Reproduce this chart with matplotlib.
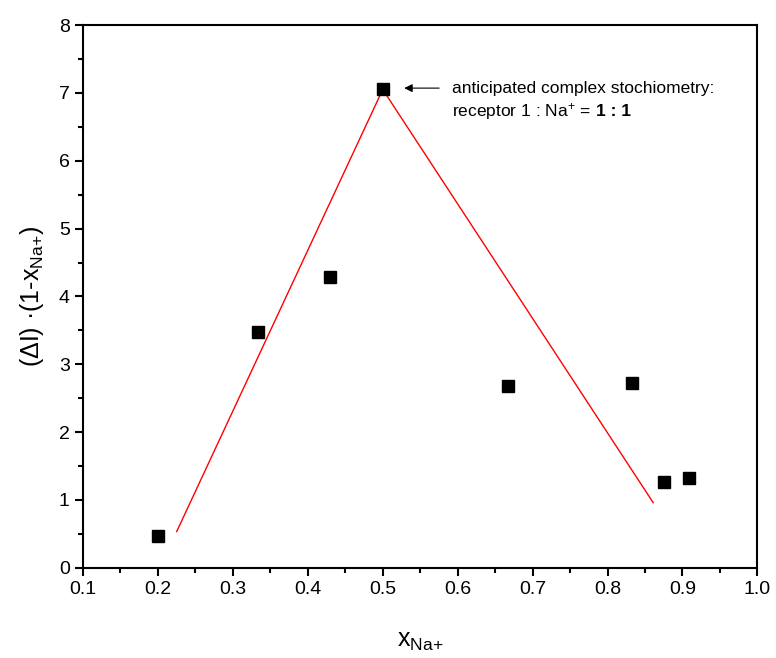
import matplotlib
matplotlib.use("Agg")
import matplotlib.pyplot as plt
from matplotlib.ticker import MultipleLocator

plt.rcParams['font.family'] = ['Liberation Sans', 'DejaVu Sans']
plt.rcParams['mathtext.fontset'] = 'custom'
plt.rcParams['mathtext.rm'] = 'Liberation Sans'
plt.rcParams['mathtext.it'] = 'Liberation Sans'
plt.rcParams['mathtext.bf'] = 'Liberation Sans:bold'

# measured points
x_na = [0.2, 0.333, 0.429, 0.5, 0.667, 0.833, 0.875, 0.909]
job_y = [0.47, 3.47, 4.28, 7.05, 2.68, 2.72, 1.26, 1.33]

# red guide lines
fit_x = [0.225, 0.5, 0.861]
fit_y = [0.535, 7.05, 0.96]

fig = plt.figure(figsize=(7.76, 6.58), dpi=100)
ax = fig.add_axes([0.107, 0.137, 0.869, 0.825])

ax.plot(fit_x, fit_y, color='red', lw=1)
ax.plot(x_na, job_y, 's', color='black', ms=8.6)

ax.set_xlim(0.1, 1.0)
ax.set_ylim(0, 8)
ax.xaxis.set_major_locator(MultipleLocator(0.1))
ax.xaxis.set_minor_locator(MultipleLocator(0.05))
ax.yaxis.set_major_locator(MultipleLocator(1))
ax.yaxis.set_minor_locator(MultipleLocator(0.5))
ax.xaxis.set_major_formatter(plt.FuncFormatter(lambda v, p: f"{v:.1f}"))
ax.tick_params(which='major', direction='out', length=6, width=1.5, labelsize=14)
ax.tick_params(which='minor', direction='out', length=3.5, width=1.5)
for s in ax.spines.values():
    s.set_linewidth(1.5)

ax.set_xlabel('x$_{\\mathrm{Na{+}}}$', fontsize=18, labelpad=22)
ax.set_ylabel('(ΔI) ·(1-x$_{\\mathrm{Na{+}}}$)', fontsize=18, labelpad=9)

ax.annotate('', xy=(0.525, 7.07), xytext=(0.579, 7.07),
            arrowprops=dict(arrowstyle='-|>', color='black', lw=0.8, mutation_scale=12))
ax.text(0.593, 7.07, 'anticipated complex stochiometry:', fontsize=12.5, va='center')
t2 = ax.text(0.593, 6.72, 'receptor 1 : Na$^{+}$ =', fontsize=12.5, va='center')

# bold part right after the normal text
fig.canvas.draw()
bb = t2.get_window_extent().transformed(ax.transData.inverted())
ax.text(bb.x1 + 0.006, 6.72, '1 : 1', fontsize=12.5, fontweight='bold', va='center')

fig.savefig('out.png', dpi=100)
